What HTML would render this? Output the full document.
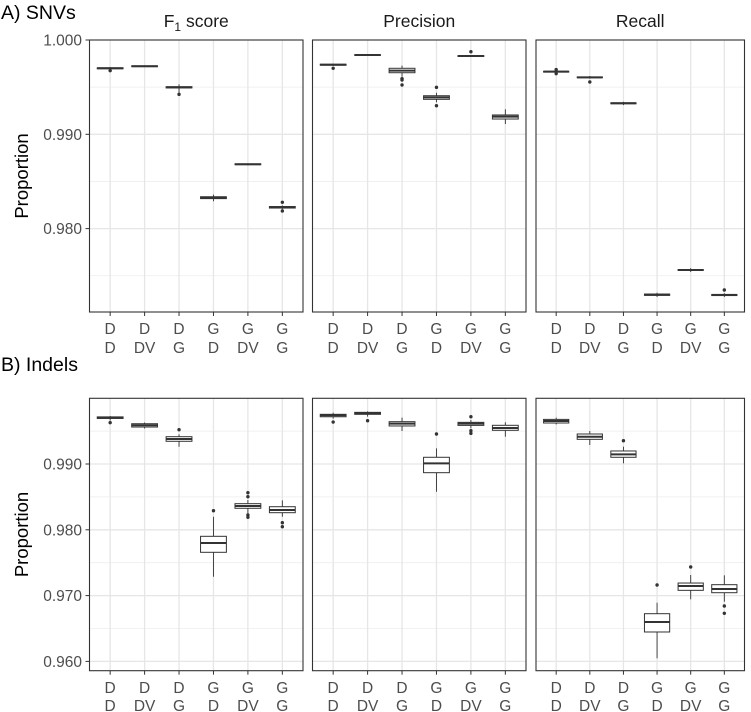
<!DOCTYPE html>
<html><head><meta charset="utf-8"><style>
body{margin:0;background:#fff;}
svg{display:block;font-family:"Liberation Sans",Arial,sans-serif;}
</style></head><body>
<svg id="c" width="751" height="712" viewBox="0 0 751 712"></svg>
<script>
const categories=[["D","D"],["D","DV"],["D","G"],["G","D"],["G","DV"],["G","G"]];
const facetTitles=["F1 score","Precision","Recall"];
const rowTitles=["A) SNVs","B) Indels"];
const yTicksA=[0.980,0.990,1.000];
const yTicksB=[0.960,0.970,0.980,0.990];
const yTickLabelsA=["0.980","0.990","1.000"];
const yTickLabelsB=["0.960","0.970","0.980","0.990"];
// [lowWhisker,q1,median,q3,highWhisker]
const snvF1=[[0.99685,0.99695,0.9970,0.99705,0.99712],[0.99714,0.99718,0.99722,0.99726,0.9973],[0.9944,0.99492,0.99498,0.99505,0.9953],[0.9829,0.98318,0.98328,0.98338,0.9836],[0.98672,0.98678,0.98682,0.98686,0.98692],[0.98205,0.98218,0.98226,0.98234,0.98245]];
const snvF1Out=[[0.99675],[],[0.99424],[],[],[0.98279,0.98187]];
const snvPrec=[[0.99725,0.99733,0.99738,0.99743,0.9975],[0.99836,0.99839,0.99841,0.99843,0.99846],[0.9961,0.99653,0.99675,0.9970,0.99728],[0.9934,0.99371,0.99392,0.99409,0.9944],[0.9982,0.99825,0.9983,0.99835,0.9984],[0.99109,0.99162,0.99187,0.99205,0.99265]];
const snvPrecOut=[[0.9970],[],[0.9959,0.99576,0.99523],[0.99498,0.99303],[0.99876],[]];
const snvRec=[[0.99655,0.9966,0.99664,0.99668,0.99673],[0.9959,0.996,0.99604,0.99608,0.99618],[0.9931,0.99324,0.99329,0.99334,0.99345],[0.97275,0.97292,0.97299,0.97306,0.9732],[0.9754,0.97556,0.97561,0.97566,0.9758],[0.97275,0.9729,0.97296,0.97302,0.97315]];
const snvRecOut=[[0.99686,0.99643],[0.99555],[],[],[],[0.97349]];
const indF1=[[0.9966,0.99692,0.99704,0.99716,0.9973],[0.9954,0.99562,0.99588,0.99612,0.9963],[0.99263,0.99345,0.9938,0.99415,0.99451],[0.97287,0.97658,0.97799,0.97901,0.98199],[0.98251,0.98327,0.98362,0.98397,0.98453],[0.98199,0.9826,0.98301,0.98351,0.98448]];
const indF1Out=[[0.99628],[],[0.99521],[0.9829],[0.98564,0.98503,0.98225,0.9819],[0.98108,0.98047]];
const indPrec=[[0.9969,0.99718,0.9974,0.99755,0.9978],[0.9972,0.99755,0.9977,0.99785,0.998],[0.99502,0.99578,0.99613,0.99643,0.99704],[0.98579,0.98868,0.9901,0.99102,0.99238],[0.99542,0.99587,0.99613,0.99633,0.99669],[0.99415,0.99512,0.99547,0.99588,0.99634]];
const indPrecOut=[[0.99638],[0.99658],[],[0.99456],[0.99719,0.99506,0.99466],[]];
const indRec=[[0.99602,0.99623,0.99653,0.99678,0.99704],[0.99289,0.99375,0.99415,0.99456,0.99502],[0.9901,0.99102,0.99147,0.99198,0.99263],[0.96047,0.96447,0.96599,0.96725,0.96892],[0.96944,0.9708,0.97146,0.97191,0.97313],[0.96907,0.97044,0.971,0.97166,0.97308]];
const indRecOut=[[],[],[0.99354],[0.97161],[0.97435],[0.96842,0.96731]];

const NS="http://www.w3.org/2000/svg";
const svg=document.getElementById('c');
function mk(tag,attrs,parent,text){const e=document.createElementNS(NS,tag);for(const k in attrs)e.setAttribute(k,attrs[k]);if(text!==undefined)e.textContent=text;(parent||svg).appendChild(e);return e;}
const panelsX=[[89.5,303],[312.5,526],[536,744.5]];
const rows=[
 {top:40,bottom:312,y:v=>40+(1.0-v)*9430,ticks:yTicksA,labels:yTickLabelsA,minor:[0.975,0.985,0.995],data:[[snvF1,snvF1Out],[snvPrec,snvPrecOut],[snvRec,snvRecOut]],title:rowTitles[0],titleY:19,lab1:334,lab2:353,name:'snvs'},
 {top:398.3,bottom:670.7,y:v=>464+(0.990-v)*6580,ticks:yTicksB,labels:yTickLabelsB,minor:[0.965,0.975,0.985,0.995],data:[[indF1,indF1Out],[indPrec,indPrecOut],[indRec,indRecOut]],title:rowTitles[1],titleY:371,lab1:693,lab2:711,name:'indels'}
];
const facetNames=['f1-score','precision','recall'];
rows.forEach((r,ri)=>{
 const t=mk('text',{x:1,y:r.titleY,'font-size':19.5,fill:'#000'},svg,r.title);
 
 
 const yt=mk('text',{x:0,y:0,'font-size':18.5,fill:'#000','text-anchor':'middle',transform:`translate(28,${(r.top+r.bottom)/2}) rotate(-90)`},svg,'Proportion');
 
 
 r.ticks.forEach((v,i)=>{
  const y=r.y(v);
  const tl=mk('text',{x:82,y:y+5.5,'font-size':15.5,fill:'#4d4d4d','text-anchor':'end'},svg,r.labels[i]);
  
  
  mk('line',{x1:85.5,x2:89.5,y1:y,y2:y,stroke:'#333','stroke-width':1});
 });
 panelsX.forEach(([L,R],pi)=>{
  const g=mk('g',{});
  
  
  const w=R-L; const cx=i=>L+(i+0.6)*w/6.2;
  r.minor.forEach(v=>{const y=r.y(v);if(y>r.top&&y<r.bottom)mk('line',{x1:L,x2:R,y1:y,y2:y,stroke:'#eeeeee','stroke-width':0.8},g);});
  r.ticks.forEach(v=>{const y=r.y(v);if(y>=r.top-0.5&&y<=r.bottom)mk('line',{x1:L,x2:R,y1:y,y2:y,stroke:'#e6e6e6','stroke-width':1.3},g);});
  categories.forEach((c,i)=>{mk('line',{x1:cx(i),x2:cx(i),y1:r.top,y2:r.bottom,stroke:'#e6e6e6','stroke-width':1.3},g);});
  const [boxes,outs]=r.data[pi];
  const bw=w/6.2*0.75;
  boxes.forEach((b,i)=>{
   const x=cx(i);
   const bg=mk('g',{},g);
   
   
   mk('line',{x1:x,x2:x,y1:r.y(b[0]),y2:r.y(b[4]),stroke:'#333','stroke-width':0.9},bg);
   const y3=r.y(b[3]),y1=r.y(b[1]);
   mk('rect',{x:x-bw/2,y:y3,width:bw,height:Math.max(0.5,y1-y3),fill:'#fff',stroke:'#333','stroke-width':1},bg);
   mk('line',{x1:x-bw/2,x2:x+bw/2,y1:r.y(b[2]),y2:r.y(b[2]),stroke:'#333','stroke-width':2},bg);
   outs[i].forEach(v=>{const d=mk('circle',{cx:x,cy:r.y(v),r:1.7,fill:'#333'},bg);});
   mk('line',{x1:x,x2:x,y1:r.bottom,y2:r.bottom+4,stroke:'#333','stroke-width':1},g);
   const l1=mk('text',{x:x,y:r.lab1,'font-size':15.5,fill:'#4d4d4d','text-anchor':'middle'},g,categories[i][0]);
   
   
   const l2=mk('text',{x:x,y:r.lab2,'font-size':15.5,fill:'#4d4d4d','text-anchor':'middle'},g,categories[i][1]);
   
   
  });
  mk('rect',{x:L,y:r.top,width:w,height:r.bottom-r.top,fill:'none',stroke:'#333','stroke-width':1.1},g);
  if(ri===0){
   const st=mk('text',{x:(L+R)/2,y:27,'font-size':17.5,fill:'#1a1a1a','text-anchor':'middle'},svg);
   
   
   if(pi===0){st.appendChild(document.createTextNode('F'));const s=mk('tspan',{'font-size':12,dy:4},st,'1');mk('tspan',{dy:-4},st,' score');}
   else st.textContent=facetTitles[pi];
  }
 });
});
</script>
</body></html>
